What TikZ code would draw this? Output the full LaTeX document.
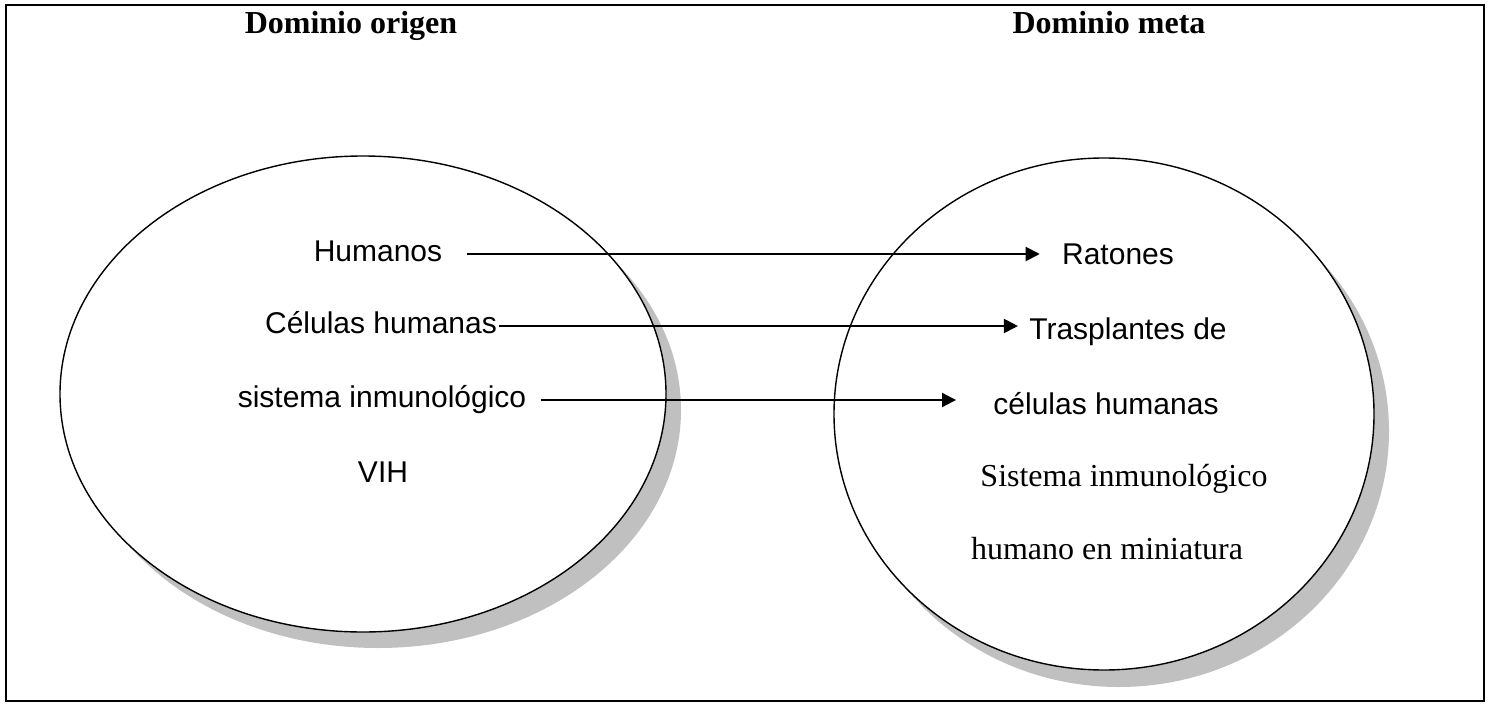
\documentclass[tikz,border=0pt]{standalone}
\usepackage{fontspec}
\setmainfont{Liberation Serif}
\newfontfamily\arialfont{Liberation Sans}
\usetikzlibrary{arrows.meta}
\definecolor{shadowgray}{HTML}{C0C0C0}
\tikzset{
  sanslabel/.style={font=\arialfont\fontsize{15}{18}\selectfont,inner sep=0pt,text height=0.72em,text depth=0pt},
  seriflabel/.style={font=\fontsize{16}{19}\selectfont,inner sep=0pt,text height=0.66em,text depth=0pt},
  titlelabel/.style={font=\bfseries\fontsize{16}{19}\selectfont,inner sep=0pt,text height=0.66em,text depth=0pt},
  maparrow/.style={line width=1pt,-{Triangle[length=7pt,width=7pt]}},
  domainline/.style={line width=0.7pt,fill=white},
}

\begin{document}
\begin{tikzpicture}[x=0.5pt,y=-0.5pt]
    \useasboundingbox (0,0) rectangle (1494,706);

    % Frame
    \draw[line width=1pt] (6,5) rectangle (1484,701);

    % Titles
    \node[titlelabel] (origen) at (351,27) {Dominio origen};
    \node[titlelabel] (meta) at (1109,27) {Dominio meta};

    % Source domain
    \fill[shadowgray] (378,410) ellipse [x radius=303,y radius=238];
    \draw[domainline] (363,394) ellipse [x radius=303,y radius=238];

    % Target domain
    \fill[shadowgray] (1119,431) ellipse [x radius=270,y radius=256];
    \draw[domainline] (1104,414) ellipse [x radius=270,y radius=256];

    % Source labels
    \node[sanslabel] (humanos) at (378,254) {Humanos};
    \node[sanslabel] (celulas) at (381,326) {Células humanas};
    \node[sanslabel] (sistema) at (382,400) {sistema inmunológico};
    \node[sanslabel] (vih) at (383,475) {VIH};

    % Target labels
    \node[sanslabel] (ratones) at (1118,257) {Ratones};
    \node[sanslabel] (trasplantes) at (1128,332) {Trasplantes de};
    \node[sanslabel] (celhum) at (1106,407) {células humanas};
    \node[seriflabel] (sistemahum) at (1124,480) {Sistema inmunológico};
    \node[seriflabel] (miniatura) at (1107,553) {humano en miniatura};

    % Mappings
    \draw[maparrow,shorten <=12pt,shorten >=11pt] (humanos.east) -- (humanos.east -| ratones.west);
    \draw[maparrow,shorten <=1pt,shorten >=5.5pt] (celulas.east) -- (celulas.east -| trasplantes.west);
    \draw[maparrow,shorten <=7pt,shorten >=18.5pt] (sistema.east) -- (sistema.east -| celhum.west);
\end{tikzpicture}
\end{document}
